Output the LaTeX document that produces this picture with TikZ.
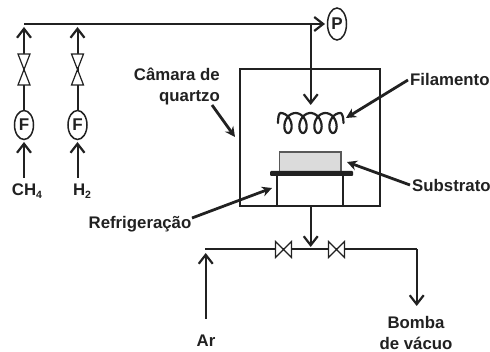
\documentclass[tikz,border=0pt]{standalone}
\usepackage{fontspec}
\setmainfont{Liberation Sans}
\usetikzlibrary{arrows.meta,shapes.geometric}
\definecolor{ink}{gray}{0.13}
\tikzset{
  x=1pt,y=-1pt,
  pipe/.style={draw=ink,line width=2pt},
  thinpipe/.style={draw=ink,line width=1.4pt},
  flow/.style={draw=ink,line width=2pt,-{Straight Barb[length=9pt,width=14pt,line width=2.2pt]}},
  call/.style={draw=ink,line width=2.8pt,-{Stealth[length=10pt,width=10pt]}},
  lab/.style={font=\bfseries\fontsize{16.8}{21}\selectfont,text=ink,inner sep=0pt,align=center},
  gauge/.style={draw=ink,line width=1.5pt,ellipse,minimum width=19pt,minimum height=29pt,inner sep=0pt,font=\bfseries\fontsize{17}{17}\selectfont,text=ink},
  valve/.style={draw=ink,line width=1.2pt,fill=white},
}
\newcommand{\subs}[1]{\raisebox{-3pt}{\fontsize{10.5}{10.5}\selectfont #1}}
\begin{document}
\begin{tikzpicture}
\useasboundingbox (0,0) rectangle (490,352);
% gauges
\node[gauge] (f1) at (24,125) {F};
\node[gauge] (f2) at (77.5,125) {F};
\node[gauge,minimum height=32pt] (p) at (337,24) {P};
% labels
\node[lab] (ch4) at (27,191) {CH\subs{4}};
\node[lab] (h2) at (82,191) {H\subs{2}};
\node[lab,align=right,anchor=east] (cam) at (220,86) {Câmara de\\quartzo};
\node[lab,anchor=west] (fil) at (410,79) {Filamento};
\node[lab,anchor=west] (sub) at (412,185) {Substrato};
\node[lab] (ref) at (140,224) {Refrigeração};
\node[lab] (ar) at (206,341) {Ar};
\node[lab] (bomba) at (416,332.5) {Bomba\\de vácuo};
% coordinates
\coordinate (n1) at (24,24);
\coordinate (n2) at (77.5,24);
\coordinate (n3) at (310.7,24);
\coordinate (t1) at (24,27);
\coordinate (t2) at (77.5,27);
\coordinate (v1) at (24,69.5);
\coordinate (v2) at (77.5,69.5);
\coordinate (in1) at (24,178);
\coordinate (in2) at (77.5,178);
\coordinate (g1) at (24,142);
\coordinate (g2) at (77.5,142);
\coordinate (pin) at (325,24);
\coordinate (fd) at (310.7,105);
% header
\draw[pipe] (n1) -- (n3);
\draw[flow] (n3) -- (pin);
\draw[flow] (n3) -- (fd);
% gas lines
\draw[pipe] (f1.north) -- (v1);
\draw[flow] (v1) -- (t1);
\draw[pipe] (f2.north) -- (v2);
\draw[flow] (v2) -- (t2);
\draw[flow] (in1) -- (g1);
\draw[flow] (in2) -- (g2);
% valves
\foreach \x in {24,77.5}{
  \draw[valve] (\x-6,54) -- (\x+6,54) -- (\x-6,85) -- (\x+6,85) -- cycle;
}
% chamber
\draw[thinpipe] (240,69) rectangle (380,206);
% filament
\draw[draw=ink,line width=2.2pt,line join=round,line cap=round] (278,123) .. controls (278,117) and (279,113) .. (280.5,113)
  -- plot[smooth,samples=100,domain=0:1440] ({280.5+\x/24+7*sin(\x)},{123-10*cos(\x)})
  .. controls (342,113) and (343.5,117) .. (343.5,123);
% substrate
\draw[draw=ink!75,line width=1.2pt,fill=black!14] (279.5,152) rectangle (341,172);
\fill[ink,rounded corners=1pt] (270,171) rectangle (353,176);
\draw[draw=ink,line width=2pt] (277,175) -- (277,206);
\draw[draw=ink,line width=2pt] (343.3,175) -- (343.3,206);
% outlet
\coordinate (o1) at (310.7,206);
\coordinate (o2) at (310.7,247);
\coordinate (l) at (205,249);
\coordinate (r) at (416.7,249);
\coordinate (rd) at (416.7,306);
\coordinate (a0) at (205.7,319);
\coordinate (a1) at (205.7,253);
\draw[flow] (o1) -- (o2);
\draw[thinpipe] (l) -- (r);
\draw[flow] (r) -- (rd);
\draw[flow] (a0) -- (a1);
\foreach \x in {283.5,336.5}{
  \draw[valve] (\x-8,241.5) -- (\x-8,257.5) -- (\x+8,241.5) -- (\x+8,257.5) -- cycle;
}
% callouts
\coordinate (c0) at (212,105);
\coordinate (c1) at (235,137);
\coordinate (c2) at (408,80);
\coordinate (c3) at (346,118);
\coordinate (c4) at (410,185);
\coordinate (c5) at (347,162);
\coordinate (c6) at (192,218);
\coordinate (c7) at (272,188);
\draw[call] (c0) -- (c1);
\draw[call] (c2) -- (c3);
\draw[call] (c4) -- (c5);
\draw[call] (c6) -- (c7);
\end{tikzpicture}
\end{document}
